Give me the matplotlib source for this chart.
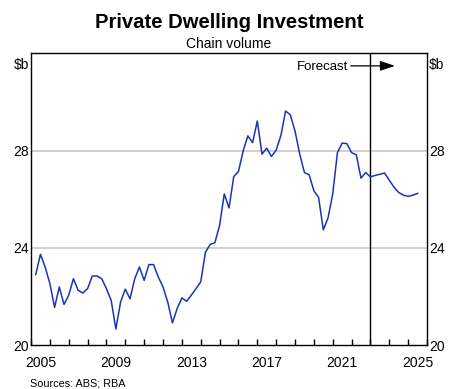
import matplotlib
matplotlib.use("Agg")
import matplotlib.pyplot as plt
import numpy as np
import pandas as pd

plt.rcParams['font.family'] = ['Liberation Sans', 'DejaVu Sans']
plt.rcParams['text.parse_math'] = False

# quarterly dwelling investment, $b chain volume
actual = [22.90, 23.73, 23.21, 22.53, 21.55, 22.39, 21.67, 22.05,
          22.73, 22.25, 22.14, 22.32, 22.84, 22.84, 22.73, 22.32,
          21.84, 20.66, 21.77, 22.30, 21.90, 22.73, 23.21, 22.66,
          23.31, 23.31, 22.80, 22.39, 21.77, 20.91, 21.50, 21.94,
          21.80, 22.05, 22.32, 22.60, 23.82, 24.14, 24.21, 24.92,
          26.22, 25.64, 26.93, 27.14, 27.99, 28.61, 28.33, 29.22,
          27.86, 28.10, 27.76, 28.02, 28.62, 29.63, 29.48, 28.81,
          27.86, 27.10, 27.01, 26.35, 26.08, 24.74, 25.23, 26.22,
          27.92, 28.31, 28.29, 27.92, 27.83, 26.87, 27.10, 26.92]
forecast = [26.98, 27.03, 27.08, 26.78, 26.50, 26.28, 26.17, 26.12,
            26.17, 26.24]
first_quarter = '2005Q1'
forecast_start = 2023.0

year_labels = [2005, 2009, 2013, 2017, 2021, 2025]
y_ticks = [20, 24, 28]

values = actual + forecast
quarters = pd.period_range(first_quarter, periods=len(values), freq='Q')
# plot each quarter at its end
x = quarters.year + quarters.quarter / 4.0

line_col = '#1c34b4'

fig = plt.figure(figsize=(4.52, 3.89), dpi=100)
ax = fig.add_axes([0.0686, 0.1131, 0.8761, 0.7494])

for g in [24, 28]:
    ax.axhline(g, color='#c8c8c8', lw=1.2, zorder=1)

ax.plot(x, values, color=line_col, lw=1.1, zorder=3)
ax.axvline(forecast_start, color='black', lw=1.0, zorder=2)

ax.set_xlim(2005, 2026)
ax.set_ylim(20, 32)

ax.set_xticks(np.arange(2005, 2027))
ax.set_xticklabels([])
ax.set_xticks([y + 0.5 for y in year_labels], minor=True)
ax.set_xticklabels([str(y) for y in year_labels], minor=True)
ax.tick_params(axis='x', which='major', direction='in', length=4.3,
               width=1.0, top=False)
ax.tick_params(axis='x', which='minor', length=0, pad=8, labelsize=10)

ax.set_yticks(y_ticks)
ax.set_yticklabels([str(v) for v in y_ticks])
ax.tick_params(axis='y', length=0, pad=1.5, labelsize=10,
               labelleft=True, labelright=True)

for s in ax.spines.values():
    s.set_linewidth(1.0)
    s.set_color('black')

ax.text(-0.004, 0.985, '$b', transform=ax.transAxes, ha='right', va='top',
        fontsize=10)
ax.text(1.004, 0.985, '$b', transform=ax.transAxes, ha='left', va='top',
        fontsize=10)

ax.text(2021.84, 31.3, 'Forecast', ha='right', va='baseline', fontsize=9.5)
ax.annotate('', xy=(2024.3, 31.49), xytext=(2021.95, 31.49),
            arrowprops=dict(arrowstyle='-|>,head_length=0.9,head_width=0.3',
                            color='black', lw=0.9, shrinkA=0, shrinkB=0))

fig.text(0.5066, 1 - 28 / 389, 'Private Dwelling Investment', ha='center',
         va='baseline', fontsize=14.6, fontweight='bold')
fig.text(0.5066, 1 - 47.7 / 389, 'Chain volume', ha='center', va='baseline',
         fontsize=10)
fig.text(30 / 452, 1 - 386 / 389, 'Sources: ABS; RBA', ha='left',
         va='baseline', fontsize=7.8)

fig.savefig('out.png', dpi=100)
